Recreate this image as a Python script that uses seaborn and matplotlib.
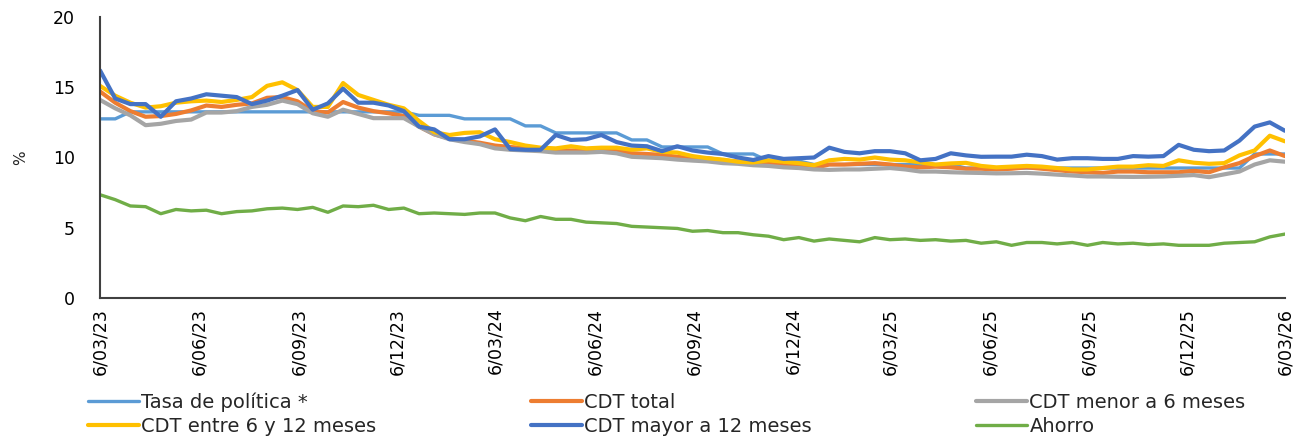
import pandas as pd
import numpy as np
import matplotlib
matplotlib.use("Agg")
import matplotlib.pyplot as plt
import seaborn as sns

# ── Data (biweekly readings, 6/03/23 – 6/03/26) ───────────────
start_date = "2023-03-06"
end_date = "2026-03-06"
n_points = 79

tasa_politica = [12.75, 12.75] + [13.25] * 19 + [13.0] * 3 + [12.75] * 4 \
    + [12.25] * 2 + [11.75] * 5 + [11.25] * 2 + [10.75] * 4 + [10.25] * 3 \
    + [9.75] * 3 + [9.5] * 10 + [9.25] * 19 + [10.25] * 3

cdt_total = [14.7, 13.9, 13.3, 12.9, 12.95, 13.1, 13.35, 13.7, 13.6, 13.75,
             13.85, 14.25, 14.3, 14.0, 13.3, 13.2, 13.95, 13.55, 13.3, 13.15,
             12.95, 12.2, 11.65, 11.35, 11.2, 11.05, 10.85, 10.75, 10.65, 10.55,
             10.5, 10.5, 10.5, 10.55, 10.55, 10.3, 10.25, 10.18, 10.05, 9.95,
             9.95, 9.8, 9.7, 9.6, 9.55, 9.45, 9.4, 9.25, 9.5, 9.5,
             9.55, 9.6, 9.5, 9.35, 9.3, 9.35, 9.3, 9.2, 9.2, 9.15,
             9.2, 9.3, 9.2, 9.1, 9.0, 8.95, 8.9, 9.0, 9.0, 8.95,
             8.95, 8.95, 9.05, 8.95, 9.3, 9.6, 10.1, 10.5, 10.1]

cdt_menor_6 = [14.1, 13.5, 13.0, 12.3, 12.4, 12.6, 12.7, 13.2, 13.2, 13.3,
               13.6, 13.75, 14.05, 13.8, 13.15, 12.9, 13.4, 13.1, 12.8, 12.8,
               12.8, 12.2, 11.65, 11.3, 11.1, 10.95, 10.65, 10.55, 10.5, 10.45,
               10.35, 10.35, 10.35, 10.4, 10.3, 10.05, 10.0, 9.95, 9.85, 9.78,
               9.72, 9.6, 9.55, 9.45, 9.4, 9.3, 9.25, 9.15, 9.12, 9.15,
               9.15, 9.2, 9.25, 9.15, 9.0, 9.0, 8.95, 8.92, 8.9, 8.87,
               8.88, 8.9, 8.85, 8.78, 8.72, 8.65, 8.65, 8.63, 8.62, 8.63,
               8.65, 8.7, 8.75, 8.6, 8.8, 9.0, 9.5, 9.8, 9.7]

cdt_6_12 = [15.1, 14.4, 13.9, 13.55, 13.65, 13.9, 14.0, 14.05, 13.95, 14.1,
            14.3, 15.1, 15.35, 14.8, 13.6, 13.6, 15.3, 14.45, 14.1, 13.75,
            13.5, 12.6, 11.8, 11.6, 11.75, 11.8, 11.3, 11.1, 10.85, 10.7,
            10.65, 10.8, 10.65, 10.7, 10.7, 10.55, 10.65, 10.4, 10.35, 10.1,
            9.95, 9.85, 9.7, 9.65, 9.8, 9.7, 9.6, 9.45, 9.8, 9.9,
            9.85, 10.0, 9.85, 9.8, 9.65, 9.5, 9.58, 9.62, 9.4, 9.3,
            9.35, 9.4, 9.35, 9.25, 9.15, 9.15, 9.25, 9.35, 9.35, 9.45,
            9.4, 9.8, 9.63, 9.55, 9.6, 10.15, 10.5, 11.55, 11.15]

cdt_mayor_12 = [16.2, 14.2, 13.8, 13.8, 12.9, 14.0, 14.2, 14.5, 14.4, 14.3,
                13.8, 14.05, 14.4, 14.8, 13.4, 13.85, 14.9, 13.9, 13.9, 13.7,
                13.3, 12.2, 12.0, 11.3, 11.3, 11.5, 12.0, 10.6, 10.55, 10.55,
                11.6, 11.25, 11.3, 11.6, 11.1, 10.85, 10.8, 10.45, 10.8, 10.5,
                10.35, 10.25, 10.0, 9.82, 10.1, 9.9, 9.95, 10.0, 10.7, 10.4,
                10.3, 10.45, 10.45, 10.3, 9.8, 9.9, 10.3, 10.15, 10.05, 10.06,
                10.06, 10.2, 10.1, 9.85, 9.95, 9.95, 9.9, 9.9, 10.1, 10.06,
                10.1, 10.9, 10.55, 10.45, 10.5, 11.2, 12.2, 12.5, 11.9]

ahorro = [7.35, 7.0, 6.55, 6.5, 6.0, 6.3, 6.2, 6.25, 6.0, 6.15,
          6.2, 6.35, 6.4, 6.3, 6.45, 6.1, 6.55, 6.5, 6.6, 6.3,
          6.4, 6.0, 6.05, 6.0, 5.95, 6.05, 6.05, 5.7, 5.5, 5.8,
          5.6, 5.6, 5.4, 5.35, 5.3, 5.1, 5.05, 5.0, 4.95, 4.75,
          4.8, 4.65, 4.65, 4.5, 4.4, 4.15, 4.3, 4.05, 4.2, 4.1,
          4.0, 4.3, 4.15, 4.2, 4.1, 4.15, 4.05, 4.1, 3.9, 4.0,
          3.75, 3.95, 3.95, 3.85, 3.95, 3.75, 3.95, 3.85, 3.9, 3.8,
          3.85, 3.75, 3.75, 3.75, 3.9, 3.95, 4.0, 4.35, 4.55]

series_names = ["Tasa de política *", "CDT total", "CDT menor a 6 meses",
                "CDT entre 6 y 12 meses", "CDT mayor a 12 meses", "Ahorro"]
series_values = [tasa_politica, cdt_total, cdt_menor_6,
                 cdt_6_12, cdt_mayor_12, ahorro]
colors = ["#5B9BD5", "#ED7D31", "#A5A5A5", "#FFC000", "#4472C4", "#70AD47"]
widths = [2.4, 3.0, 3.0, 3.0, 3.0, 2.4]

# quarterly ticks on the 6th: 6/03/23 ... 6/03/26
tick_dates = pd.date_range("2023-03-01", "2026-03-01", freq="3MS") + pd.Timedelta(days=5)

dates = pd.date_range(start_date, end_date, periods=n_points)

# ── Style ─────────────────────────────────────────────────────
sns.set_style("white")
plt.rcParams["font.family"] = ["DejaVu Sans"]

fig = plt.figure(figsize=(13.08, 4.38), dpi=100)
ax = fig.add_axes([100 / 1308, 1 - 298 / 438, 1185 / 1308, 281 / 438])

handles = {}
for name, vals, col, lw in zip(series_names, series_values, colors, widths):
    sns.lineplot(x=dates, y=vals, ax=ax, color=col, linewidth=lw, label=name,
                 legend=False)
    handles[name] = ax.get_lines()[-1]

ax.set_xlim(pd.Timestamp(start_date), pd.Timestamp(end_date))
ax.set_ylim(0, 20)
ax.set_yticks([0, 5, 10, 15, 20])
ax.set_xticks(tick_dates)
ax.set_xticklabels([f"{d.day}/{d:%m/%y}" for d in tick_dates], rotation=90,
                   fontsize=12.5)
ax.tick_params(axis="y", direction="in", length=6, width=1.3, pad=18,
               labelsize=12.5, colors="#404040", labelcolor="black")
ax.tick_params(axis="x", direction="in", length=6, width=1.3, pad=7,
               colors="#404040", labelcolor="black")
ax.set_xlabel("")
ax.set_ylabel("%", fontsize=11, labelpad=18)
for side in ["top", "right"]:
    ax.spines[side].set_visible(False)
for side in ["left", "bottom"]:
    ax.spines[side].set_color("#404040")
    ax.spines[side].set_linewidth(1.5)
ax.grid(False)

# legend: three columns placed where the reference puts them
columns = [(["Tasa de política *", "CDT entre 6 y 12 meses"], 86),
           (["CDT total", "CDT mayor a 12 meses"], 529),
           (["CDT menor a 6 meses", "Ahorro"], 974)]
for labels, x_px in columns:
    fig.legend([handles[l] for l in labels], labels, loc="lower left",
               bbox_to_anchor=(x_px / 1308, 0.0), bbox_transform=fig.transFigure,
               frameon=False, fontsize=14, handlelength=2.6, handletextpad=0.15,
               labelspacing=0.25, borderaxespad=0, borderpad=0.1)

fig.savefig("out.png", dpi=100)
